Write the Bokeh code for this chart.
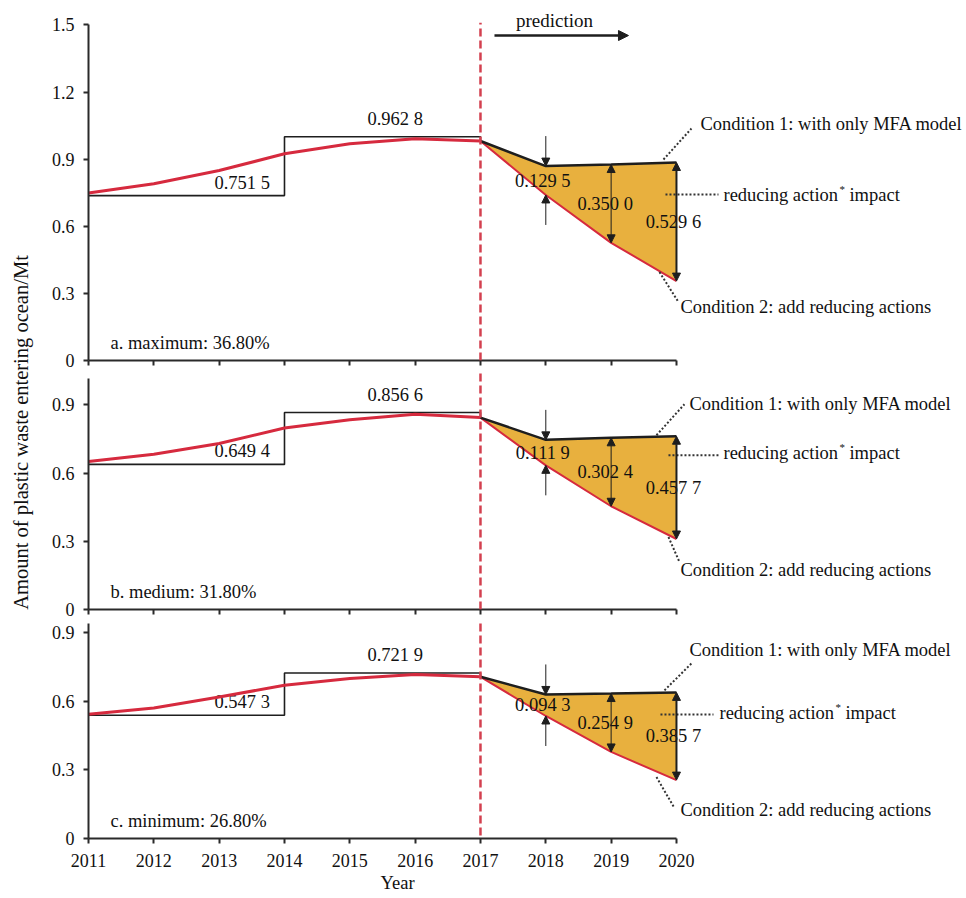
import math
from bokeh.plotting import figure
from bokeh.models import Range1d, FixedTicker, CustomJSTickFormatter, Arrow, NormalHead, Title
from bokeh.layouts import column, row
from bokeh.embed import file_html
from bokeh.resources import INLINE
from bokeh.core.properties import value

# ---------------- data ----------------
years_hist = [2011, 2012, 2013, 2014, 2015, 2016, 2017]
years_pred = [2017, 2018, 2019, 2020]
years_ticks = [2011, 2012, 2013, 2014, 2015, 2016, 2017, 2018, 2019, 2020]

panel_titles = ["a. maximum: 36.80%", "b. medium: 31.80%", "c. minimum: 26.80%"]

hist_a = [0.749, 0.790, 0.849, 0.924, 0.969, 0.991, 0.981]
hist_b = [0.651, 0.683, 0.730, 0.798, 0.834, 0.859, 0.844]
hist_c = [0.543, 0.570, 0.618, 0.669, 0.699, 0.716, 0.706]

cond1_a = [0.981, 0.869, 0.876, 0.885]
cond2_a = [0.981, 0.740, 0.526, 0.355]
cond1_b = [0.844, 0.746, 0.755, 0.762]
cond2_b = [0.844, 0.634, 0.454, 0.310]
cond1_c = [0.706, 0.629, 0.633, 0.638]
cond2_c = [0.706, 0.535, 0.378, 0.255]

# drawn bracket levels (2011-2013 and 2014-2016 periods)
step_a = [0.737, 1.000]
step_b = [0.638, 0.866]
step_c = [0.538, 0.723]
avg_labels_a = ["0.751 5", "0.962 8"]
avg_labels_b = ["0.649 4", "0.856 6"]
avg_labels_c = ["0.547 3", "0.721 9"]

diff_labels_a = ["0.129 5", "0.350 0", "0.529 6"]
diff_labels_b = ["0.111 9", "0.302 4", "0.457 7"]
diff_labels_c = ["0.094 3", "0.254 9", "0.385 7"]

yticks_a = [0, 0.3, 0.6, 0.9, 1.2, 1.5]
yticks_b = [0, 0.3, 0.6, 0.9]
yticks_c = [0, 0.3, 0.6, 0.9]

cond1_text = "Condition 1: with only MFA model"
cond2_text = "Condition 2: add reducing actions"
impact_text_1 = "reducing action"
impact_star = "*"
impact_text_2 = "impact"
y_title = "Amount of plastic waste entering ocean/Mt"
x_title = "Year"

# ---------------- style ----------------
FONT = value("Liberation Serif")
RED = "#d62a3e"
RED_DASH = "#d3404f"
ORANGE = "#e8b03e"
BLACK = "#1e1e1e"
AXIS = "#2a2a2a"
TXT = "#111111"
FS = "18.5px"
FRAME_W = 877
PXY = 65.33               # pixels per year
X_END = 2011 + FRAME_W / PXY
LEFT_STRIP = 48
STRIP_H = 890


def style_axes(p, yticks, ybound, show_xlabels):
    for ax in (p.xaxis[0], p.yaxis[0]):
        ax.axis_line_width = 2
        ax.axis_line_color = AXIS
        ax.major_tick_line_color = AXIS
        ax.major_tick_line_width = 2
        ax.major_tick_out = 5
        ax.major_tick_in = 0
        ax.minor_tick_line_color = None
        ax.major_label_text_font = "Liberation Serif"
        ax.major_label_text_font_size = "18px"
        ax.major_label_text_color = TXT
    p.xaxis.ticker = FixedTicker(ticks=years_ticks)
    p.xaxis.bounds = (2011, 2020)
    p.yaxis.ticker = FixedTicker(ticks=yticks)
    p.yaxis.bounds = (0, ybound)
    p.yaxis.major_label_standoff = 9
    p.yaxis.formatter = CustomJSTickFormatter(code="return tick == 0 ? '0' : tick.toFixed(1);")
    if show_xlabels:
        p.xaxis.major_label_standoff = 10
    else:
        p.xaxis.formatter = CustomJSTickFormatter(code="return '';")
        p.xaxis.major_label_text_font_size = "1px"
        p.xaxis.major_label_standoff = 0


def make_panel(hist, c1, c2, step, avg_labels, diff_labels, title, yticks,
               ybound, frame_h, y_end, mbt, mbb, last, ann, dash_bottom, top_panel=False):
    p = figure(frame_width=FRAME_W, frame_height=frame_h,
               x_range=Range1d(2011, X_END), y_range=Range1d(0, y_end),
               output_backend="svg", toolbar_location=None,
               min_border_left=39, min_border_right=0,
               min_border_top=mbt, min_border_bottom=mbb)
    p.outline_line_color = None
    p.grid.visible = False
    style_axes(p, yticks, ybound, last)
    S = frame_h / y_end  # pixels per unit

    def dy(px):
        return -px / S

    def dx(px):
        return px / PXY

    # orange area between the two conditions
    p.varea(x=years_pred, y1=c2, y2=c1, fill_color=ORANGE, fill_alpha=1.0)

    # bracket of period averages
    p.line([2011, 2014, 2014, 2017, 2017], [step[0], step[0], step[1], step[1], hist[-1]],
           line_color=BLACK, line_width=1.6)
    p.text(x=[2013, 2016], y=step, text=avg_labels, x_offset=[23, -20], y_offset=[-13, -18],
           text_align="center", text_baseline="middle", text_font=FONT,
           text_font_size=FS, text_color=TXT)

    # historical curve and predictions
    p.line(years_hist, hist, line_color=RED, line_width=3)
    p.line(years_pred, c2, line_color=RED, line_width=2)
    p.line(years_pred, c1, line_color=BLACK, line_width=2.5)

    # difference labels
    mids = [(a + b) / 2 for a, b in zip(c1[1:], c2[1:])]
    p.text(x=years_pred[1:], y=mids, text=diff_labels, x_offset=[-3, -6, -3],
           text_align="center", text_baseline="middle", text_font=FONT,
           text_font_size=FS, text_color=TXT)

    # arrows
    hs = 8

    def head():
        return NormalHead(size=hs, fill_color=BLACK, line_color=BLACK)

    p.add_layout(Arrow(end=head(), x_start=2018, y_start=c1[1] - dy(30), x_end=2018, y_end=c1[1],
                       line_width=1, line_color=BLACK))
    p.add_layout(Arrow(end=head(), x_start=2018, y_start=c2[1] + dy(30), x_end=2018, y_end=c2[1],
                       line_width=1, line_color=BLACK))
    p.add_layout(Arrow(start=head(), end=head(),
                       x_start=2019, y_start=c2[2], x_end=2019, y_end=c1[2],
                       line_width=1, line_color=BLACK))
    p.add_layout(Arrow(start=head(), end=head(),
                       x_start=2020, y_start=c2[3], x_end=2020, y_end=c1[3],
                       line_width=2, line_color=BLACK))

    # leader lines and annotation texts (pixel offsets from the 2020 points)
    (l1, t1, li, ti, l2, t2) = ann
    p.segment(x0=[2020 + dx(l1[0]), 2020 + dx(li[0]), 2020 + dx(l2[0])],
              y0=[c1[3] + dy(l1[1]), c1[3] + dy(li[2]), c2[3] + dy(l2[1])],
              x1=[2020 + dx(l1[2]), 2020 + dx(li[1]), 2020 + dx(l2[2])],
              y1=[c1[3] + dy(l1[3]), c1[3] + dy(li[2]), c2[3] + dy(l2[3])],
              line_color="#333333", line_width=2, line_dash="2 2")
    p.text(x=[2020, 2020, 2020, 2020], y=[c1[3], c1[3], c1[3], c2[3]],
           text=[cond1_text, impact_text_1, impact_text_2, cond2_text],
           x_offset=[t1[0], ti[0], ti[0] + 126, t2[0]], y_offset=[t1[1], ti[1], ti[1], t2[1]],
           text_align="left", text_baseline="middle", text_font=FONT,
           text_font_size=FS, text_color=TXT)
    p.text(x=[2020], y=[c1[3]], text=[impact_star], x_offset=[ti[0] + 116],
           y_offset=[ti[1] - 6], text_align="left", text_baseline="middle",
           text_font=FONT, text_font_size="11px", text_color=TXT)

    # panel title
    p.text(x=[2011], y=[0], text=[title], x_offset=[22], y_offset=[-18],
           text_align="left", text_baseline="middle", text_font=FONT,
           text_font_size=FS, text_color=TXT)

    # red dashed divider at 2017 (extends through the gaps between panels)
    p.add_layout(Arrow(end=None, x_start=2017, x_end=2017,
                       y_start=dy(dash_bottom), y_end=(1.51 if top_panel else y_end),
                       line_color=RED_DASH, line_width=2.5, line_dash="8 4"))

    if top_panel:
        p.add_layout(Arrow(end=NormalHead(size=10, fill_color=BLACK, line_color=BLACK),
                           x_start=2017 + dx(14), y_start=1.5 + dy(10.6),
                           x_end=2017 + dx(148), y_end=1.5 + dy(10.6),
                           line_width=2.5, line_color=BLACK))
        p.text(x=[2017], y=[1.5], text=["prediction"], x_offset=[74], y_offset=[-4.4],
               text_align="center", text_baseline="middle", text_font=FONT,
               text_font_size="19px", text_color=TXT)
    if last:
        p.add_layout(Title(text=x_title, align="left", offset=292, standoff=2,
                           text_font="Liberation Serif", text_font_size=FS,
                           text_font_style="normal", text_color=TXT), "below")
    return p


# annotation pixel offsets: leader1 (x0,y0,x1,y1), text1 (x,y), impact leader (x0,x1,y),
# impact text (x,y), leader2 (x0,y0,x1,y1), text2 (x,y)
ann_a = ((-13, -3, 15, -34), (24, -39), (-11, 42, 32), (47, 32), (-17, -9, 2, 21), (4, 26))
ann_b = ((-20, -1, 8, -32), (13, -32), (-8, 42, 19), (47, 17), (-8, -2, 3, 23), (4, 31))
ann_c = ((-12, -2, 16, -30), (13, -42), (-16, 37, 22), (43, 21), (-20, -3, -2, 28), (4, 30))

p1 = make_panel(hist_a, cond1_a, cond2_a, step_a, avg_labels_a, diff_labels_a, panel_titles[0],
                yticks_a, 1.5, 349, 1.56, 11, 12, False, ann_a, 12, top_panel=True)
p2 = make_panel(hist_b, cond1_b, cond2_b, step_b, avg_labels_b, diff_labels_b, panel_titles[1],
                yticks_b, 1.015, 237, 237 / 227.4, 0, 12, False, ann_b, 12)
p3 = make_panel(hist_c, cond1_c, cond2_c, step_c, avg_labels_c, diff_labels_c, panel_titles[2],
                yticks_c, 0.94, 217, 217 / 229.0, 0, 0, True, ann_c, 9)

# shared y-axis title in a narrow strip
pt = figure(width=LEFT_STRIP, height=STRIP_H, x_range=Range1d(0, LEFT_STRIP),
            y_range=Range1d(0, STRIP_H),
            output_backend="svg", toolbar_location=None, min_border=0)
pt.axis.visible = False
pt.grid.visible = False
pt.outline_line_color = None
pt.text(x=[20], y=[STRIP_H - 432], text=[y_title], angle=math.pi / 2,
        text_align="center", text_baseline="middle", text_font=FONT,
        text_font_size="20.5px", text_color=TXT)

layout = row(pt, column(p1, p2, p3))
open("out.html", "w").write(file_html(layout, INLINE))
